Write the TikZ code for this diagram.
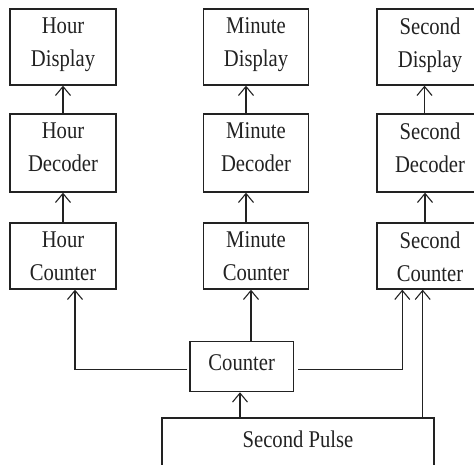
\documentclass[tikz,border=0pt]{standalone}
\usepackage{fontspec}
\newfontfamily\lblfont[FakeStretch=0.86]{Liberation Serif}
\usetikzlibrary{arrows.meta}
\definecolor{ink}{HTML}{222222}
\tikzset{
  blk/.style={draw=ink, line width=1.3pt, inner sep=0pt, minimum width=106pt},
  lbl/.style={text=ink, inner sep=0pt, align=center, font=\fontsize{24}{33}\lblfont},
  conn/.style={draw=ink, line width=1.1pt},
  arr/.style={conn, -{Straight Barb[length=9pt,width=15pt]}}
}
\begin{document}
\begin{tikzpicture}[x=1pt,y=-1pt]
  \useasboundingbox (0,0) rectangle (474,464);
  \clip (0,0) rectangle (474,464);

  % display row
  \node[blk, minimum height=76pt] (hdisp) at (63,47) {};
  \node[blk, minimum height=76pt, minimum width=105pt] (mdisp) at (256,47) {};
  \node[blk, minimum height=76pt] (sdisp) at (430,47) {};
  % decoder row
  \node[blk, minimum height=78pt] (hdec) at (63,153) {};
  \node[blk, minimum height=78pt, minimum width=105pt] (mdec) at (256,153) {};
  \node[blk, minimum height=78pt] (sdec) at (430,153) {};
  % counter row
  \node[blk, minimum height=66pt] (hcnt) at (63,256) {};
  \node[blk, minimum height=66pt, minimum width=105pt] (mcnt) at (256,256) {};
  \node[blk, minimum height=66pt] (scnt) at (430,256) {};
  % central counter and pulse source
  \node[blk, minimum height=50pt, minimum width=103.5pt] (cnt) at (241.7,366.6) {};
  \node[blk, minimum height=62pt, minimum width=272pt] (pulse) at (298,449) {};

  % labels
  \node[lbl, anchor=north] at ([yshift=-9pt]hdisp.north) {Hour\\Display};
  \node[lbl, anchor=north] at ([yshift=-9pt]mdisp.north) {Minute\\Display};
  \node[lbl, anchor=north] at ([yshift=-9pt]sdisp.north) {Second\\Display};
  \node[lbl, anchor=north] at ([yshift=-9pt]hdec.north) {Hour\\Decoder};
  \node[lbl, anchor=north] at ([yshift=-9pt]mdec.north) {Minute\\Decoder};
  \node[lbl, anchor=north] at ([yshift=-9pt]sdec.north) {Second\\Decoder};
  \node[lbl, anchor=north] at ([yshift=-9pt]hcnt.north) {Hour\\Counter};
  \node[lbl, anchor=north] at ([yshift=-9pt]mcnt.north) {Minute\\Counter};
  \node[lbl, anchor=north] at ([yshift=-9pt]scnt.north) {Second\\Counter};
  \node[lbl, anchor=base] at ([yshift=-30pt]cnt.north) {Counter};
  \node[lbl, anchor=base] at ([yshift=-29.7pt]pulse.north) {Second Pulse};

  % decoder -> display
  \draw[arr] (hdec.north) -- (hdisp.south);
  \draw[arr] ([xshift=-10pt]mdec.north) -- ([xshift=-10pt]mdisp.south);
  \draw[arr] ([xshift=-5.5pt]sdec.north) -- ([xshift=-5.5pt]sdisp.south);
  % counter -> decoder
  \draw[arr] (hcnt.north) -- (hdec.south);
  \draw[arr] ([xshift=-10pt]mcnt.north) -- ([xshift=-10pt]mdec.south);
  \draw[arr] ([xshift=-5pt]scnt.north) -- ([xshift=-5pt]sdec.south);
  % central counter -> unit counters
  \draw[arr] ([xshift=-2pt,yshift=-2.7pt]cnt.west) -| ([xshift=12pt]hcnt.south);
  \draw[arr] ([xshift=9.3pt]cnt.north) -- ([xshift=-5pt]mcnt.south);
  \draw[arr] ([xshift=4pt,yshift=-2.7pt]cnt.east) -| ([xshift=-27.7pt]scnt.south);
  % pulse source
  \draw[arr] ([xshift=-58pt]pulse.north) -- ([xshift=-1.7pt]cnt.south);
  \draw[arr] ([xshift=124.7pt]pulse.north) -- ([xshift=-7.3pt]scnt.south);
\end{tikzpicture}
\end{document}
